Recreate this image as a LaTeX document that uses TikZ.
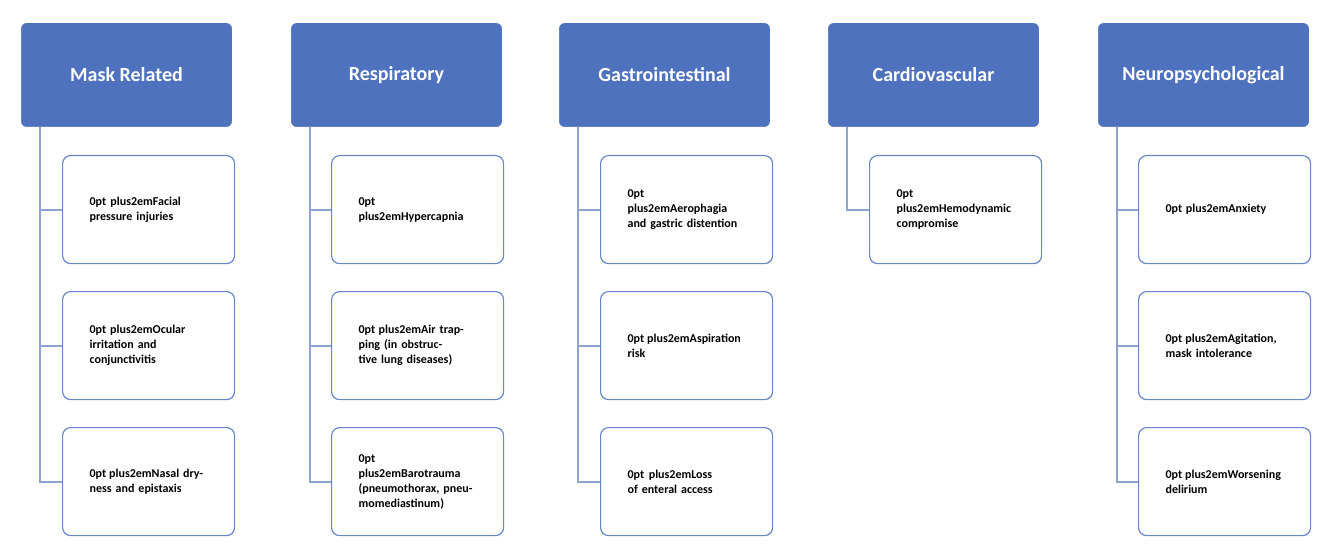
\documentclass[tikz,border=0pt]{standalone}
\usepackage{fontspec}
\setmainfont{Carlito}
\begin{document}
\begin{tikzpicture}[x=1pt,y=-1pt,
 hdr/.style={draw=white,line width=1pt,fill={rgb,255:red,79;green,114;blue,190},rounded corners=6pt,minimum width=212pt,minimum height=105pt,text=white,font=\bfseries\fontsize{20}{23}\selectfont,anchor=north west,inner sep=2pt},
 kid/.style={draw={rgb,255:red,104;green,134;blue,200},line width=1.2pt,fill=white,rounded corners=8pt,minimum width=172pt,minimum height=108pt,text width=118pt,align=center,font=\bfseries\fontsize{12}{15}\selectfont\hyphenpenalty=10000,anchor=north west},
 con/.style={draw={rgb,255:red,143;green,163;blue,207},line width=2pt}]
\useasboundingbox (0,0) rectangle (1333,556);
\foreach \i/\x/\t in {1/20/Mask Related,2/290/Respiratory,3/558/Gastrointestinal,4/827/Cardiovascular,5/1097/Neuropsychological}{
 \node[hdr] (h\i) at (\x,22) {\t};
 \coordinate (t\i) at (\x+20,127);
}
\newcommand{\kidnode}[5]{% id, header index, x, y, text
 \node[kid] (#1) at (#3,#4) {#5};
 \draw[con] (t#2) |- (#1.west);
}
\kidnode{a1}{1}{62}{155}{Facial pressure injuries}
\kidnode{a2}{1}{62}{291}{Ocular irritation and conjunctivitis}
\kidnode{a3}{1}{62}{427}{Nasal dryness and epistaxis}
\kidnode{b1}{2}{331}{155}{Hypercapnia}
\kidnode{b2}{2}{331}{291}{Air trapping (in obstructive lung diseases)}
\kidnode{b3}{2}{331}{427}{Barotrauma (pneumothorax, pneumomediastinum)}
\kidnode{c1}{3}{600}{155}{Aerophagia and gastric distention}
\kidnode{c2}{3}{600}{291}{Aspiration risk}
\kidnode{c3}{3}{600}{427}{Loss of enteral access}
\kidnode{d1}{4}{869}{155}{Hemodynamic compromise}
\kidnode{e1}{5}{1138}{155}{Anxiety}
\kidnode{e2}{5}{1138}{291}{Agitation, mask intolerance}
\kidnode{e3}{5}{1138}{427}{Worsening delirium}
\end{tikzpicture}
\end{document}
